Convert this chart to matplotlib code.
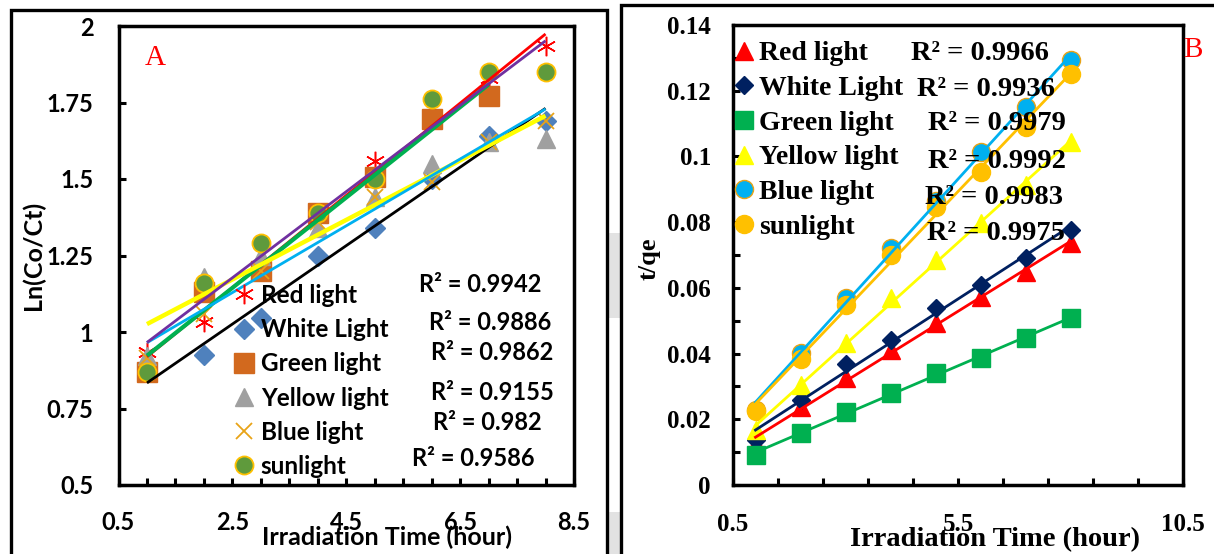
import matplotlib
matplotlib.use("Agg")
import matplotlib.pyplot as plt
import numpy as np
from matplotlib.patches import Rectangle

# ---- data: panel A, ln(Co/Ct) vs irradiation time ----
time_a = [1, 2, 3, 4, 5, 6, 7, 8]
red_a = [0.935, 1.034, 1.20, 1.38, 1.558, 1.70, 1.83, 1.935]
white_a = [0.87, 0.926, 1.045, 1.247, 1.34, 1.50, 1.64, 1.69]
green_a = [0.87, 1.13, 1.20, 1.39, 1.505, 1.695, 1.77]
yellow_a = [0.92, 1.18, 1.25, 1.34, 1.44, 1.55, 1.62, 1.63]
blue_a = [0.916, 1.06, 1.20, 1.36, 1.44, 1.49, 1.62, 1.69]
sun_a = [0.87, 1.16, 1.29, 1.39, 1.50, 1.76, 1.85, 1.85]
r2_a = ["R² = 0.9942", "R² = 0.9886", "R² = 0.9862", "R² = 0.9155", "R² = 0.982", "R² = 0.9586"]

# ---- data: panel B, t/qe vs irradiation time ----
time_b = [1, 2, 3, 4, 5, 6, 7, 8]
red_b = [0.0125, 0.0238, 0.0325, 0.0411, 0.0492, 0.0573, 0.0648, 0.0736]
white_b = [0.0137, 0.026, 0.0368, 0.0441, 0.0539, 0.0609, 0.069, 0.0776]
green_b = [0.0091, 0.0158, 0.0222, 0.028, 0.0341, 0.0386, 0.0447, 0.0508]
yellow_b = [0.0167, 0.0304, 0.0432, 0.0569, 0.0685, 0.0797, 0.0913, 0.1044]
blue_b = [0.0228, 0.0402, 0.0569, 0.0721, 0.0865, 0.1013, 0.115, 0.1293]
sun_b = [0.0225, 0.0385, 0.0548, 0.070, 0.0846, 0.0953, 0.109, 0.125]
r2_b = ["R² = 0.9966", "R² = 0.9936", "R² = 0.9979", "R² = 0.9992", "R² = 0.9983", "R² = 0.9975"]

labels = ["Red light", "White Light", "Green light", "Yellow light", "Blue light", "sunlight"]

W, H = 1214, 554
SANS = "Lato"
SERIF = "Liberation Serif"


def px_box(x0, y0, x1, y1):
    return [x0 / W, 1 - y1 / H, (x1 - x0) / W, (y1 - y0) / H]


def fig_xy(x, y):
    return x / W, 1 - y / H


fig = plt.figure(figsize=(W / 100, H / 100), dpi=100)

# outer frames and the grey strip between the two panels
fig.patches.append(Rectangle(fig_xy(608, 318), 12 / W, 85 / H, transform=fig.transFigure,
                             facecolor="#e2e2e2", edgecolor="none"))
fig.patches.append(Rectangle(fig_xy(608, 554), 12 / W, 42 / H, transform=fig.transFigure,
                             facecolor="#e2e2e2", edgecolor="none"))
fig.patches.append(Rectangle(fig_xy(11, 600), 596 / W, 590 / H, transform=fig.transFigure,
                             facecolor="none", edgecolor="black", lw=2.4))
fig.patches.append(Rectangle(fig_xy(621, 600), 700 / W, 595 / H, transform=fig.transFigure,
                             facecolor="none", edgecolor="black", lw=2.4))

# ================= panel A =================
ax_a = fig.add_axes(px_box(118.5, 26, 574, 485))
styles_a = [
    dict(marker=(6, 2, 0), ms=14, mec="#ff0000", mew=1.1, color="#ff0000"),
    dict(marker="D", ms=10, mfc="#4f81bd", mec="#4f81bd", color="#4f81bd"),
    dict(marker="s", ms=14, mfc="#d2691e", mec="#d2691e", color="#d2691e"),
    dict(marker="^", ms=13, mfc="#a0a0a0", mec="#a0a0a0", color="#a0a0a0"),
    dict(marker="x", ms=11, mec="#e8a317", mew=1.3, color="#e8a317"),
    dict(marker="o", ms=13, mfc="#5f9a3c", mec="#ffc000", mew=1.3, color="#5f9a3c"),
]
lines_a = [("#ff0000", 2.0), ("#000000", 2.0), ("#00b050", 3.0),
           ("#ffff00", 3.2), ("#00b0f0", 2.0), ("#7030a0", 2.0)]
series_a = [red_a, white_a, green_a, yellow_a, blue_a, sun_a]

for y, lab, st in zip(series_a, labels, styles_a):
    ax_a.plot(time_a[:len(y)], y, ls="none", label=lab, zorder=3, **st)
for y, (c, lw) in zip(series_a, lines_a):
    x = np.array(time_a[:len(y)], dtype=float)
    k, b = np.polyfit(x, y, 1)
    xs = np.array([x[0], x[-1]])
    ax_a.plot(xs, k * xs + b, color=c, lw=lw, zorder=4, solid_capstyle="butt")

ax_a.set_xlim(0.5, 8.5)
ax_a.set_ylim(0.5, 2.0)
xt_a = [0.5, 2.5, 4.5, 6.5, 8.5]
yt_a = [0.5, 0.75, 1.0, 1.25, 1.5, 1.75, 2.0]
ax_a.set_xticks(xt_a)
ax_a.set_xticks(np.arange(0.5, 8.51, 0.5), minor=True)
ax_a.set_yticks(yt_a)
ax_a.set_xticklabels([f"{v:g}" for v in xt_a])
ax_a.set_yticklabels([f"{v:g}" for v in yt_a])
ax_a.tick_params(axis="both", which="both", direction="in", length=5, width=2.2)
ax_a.tick_params(axis="x", which="major", pad=19)
ax_a.tick_params(axis="y", which="major", pad=18)
for lab in ax_a.get_xticklabels() + ax_a.get_yticklabels():
    lab.set_fontfamily(SANS)
    lab.set_fontweight("bold")
    lab.set_fontsize(17)
for sp in ax_a.spines.values():
    sp.set_linewidth(2.5)

ax_a.text(1.14, 1.895, "A", color="#ff0000", fontsize=21, family=SERIF,
          ha="center", va="center")

ax_a.legend(loc="upper left", bbox_to_anchor=fig_xy(234, 284), bbox_transform=fig.transFigure,
            frameon=False, prop=dict(family=SANS, weight="bold", size=17.5),
            handlelength=0.8, handletextpad=0.3, labelspacing=0.46, borderpad=0,
            borderaxespad=0, numpoints=1)

r2_pos_a = [(480, 285), (490, 322), (492, 352), (492, 392), (487, 423), (473, 458)]
for txt, (px, py) in zip(r2_a, r2_pos_a):
    fig.text(*fig_xy(px, py), txt, family=SANS, weight="bold", fontsize=17,
             ha="center", va="center")

fig.text(*fig_xy(387, 537), "Irradiation Time (hour)", family=SANS, weight="bold",
         fontsize=18, ha="center", va="center")
fig.text(*fig_xy(33, 255), "Ln(Co/Ct)", family=SANS, weight="bold", fontsize=18,
         ha="center", va="center", rotation=90)

# ================= panel B =================
ax_b = fig.add_axes(px_box(733, 25, 1183, 485))
styles_b = [
    dict(marker="^", ms=13, mfc="#ff0000", mec="#ff0000", color="#ff0000"),
    dict(marker="D", ms=9, mfc="#002060", mec="#002060", color="#002060"),
    dict(marker="s", ms=13, mfc="#00b050", mec="#00b050", color="#00b050"),
    dict(marker="^", ms=13, mfc="#ffff00", mec="#ffff00", color="#ffff00"),
    dict(marker="o", ms=13, mfc="#00b0f0", mec="#e8a317", mew=1.0, color="#00b0f0"),
    dict(marker="o", ms=13, mfc="#ffc000", mec="#ffc000", color="#ffc000"),
]
series_b = [red_b, white_b, green_b, yellow_b, blue_b, sun_b]

for y, lab, st in zip(series_b, labels, styles_b):
    ax_b.plot(time_b, y, ls="none", label=lab, zorder=3, **st)
for y, st in zip(series_b, styles_b):
    x = np.array(time_b, dtype=float)
    k, b = np.polyfit(x, y, 1)
    xs = np.array([x[0], x[-1]])
    ax_b.plot(xs, k * xs + b, color=st["color"], lw=2.0, zorder=4)

ax_b.set_xlim(0.5, 10.5)
ax_b.set_ylim(0, 0.14)
xt_b = [0.5, 5.5, 10.5]
yt_b = [0, 0.02, 0.04, 0.06, 0.08, 0.1, 0.12, 0.14]
ax_b.set_xticks(xt_b)
ax_b.set_xticks(np.arange(0.5, 10.51, 1.0), minor=True)
ax_b.set_yticks(yt_b)
ax_b.set_yticks(np.arange(0, 0.1401, 0.01), minor=True)
ax_b.set_xticklabels([f"{v:g}" for v in xt_b])
ax_b.set_yticklabels([f"{v:g}" for v in yt_b])
ax_b.tick_params(axis="both", which="both", direction="in", length=5, width=2.2)
ax_b.tick_params(axis="x", which="major", pad=20)
ax_b.tick_params(axis="y", which="major", pad=16)
for lab in ax_b.get_xticklabels() + ax_b.get_yticklabels():
    lab.set_fontfamily(SERIF)
    lab.set_fontweight("bold")
    lab.set_fontsize(18)
for sp in ax_b.spines.values():
    sp.set_linewidth(2.5)

fig.text(*fig_xy(1193, 50), "B", color="#ff0000", fontsize=21, family=SERIF,
         ha="center", va="center")

ax_b.legend(loc="upper left", bbox_to_anchor=fig_xy(734, 41), bbox_transform=fig.transFigure,
            frameon=False, prop=dict(family=SERIF, weight="bold", size=20),
            handlelength=0.7, handletextpad=0.2, labelspacing=0.33, borderpad=0,
            borderaxespad=0, numpoints=1)

r2_pos_b = [(980, 53), (986, 90), (997, 123), (997, 162), (994, 198), (996, 233)]
for txt, (px, py) in zip(r2_b, r2_pos_b):
    fig.text(*fig_xy(px, py), txt, family=SERIF, weight="bold", fontsize=20.5,
             ha="center", va="center")

fig.text(*fig_xy(995, 540), "Irradiation Time (hour)", family=SERIF, weight="bold",
         fontsize=20.5, ha="center", va="center")
fig.text(*fig_xy(649, 259), "t/qe", family=SERIF, weight="bold", fontsize=19,
         ha="center", va="center", rotation=90)

fig.savefig("out.png", dpi=100)
